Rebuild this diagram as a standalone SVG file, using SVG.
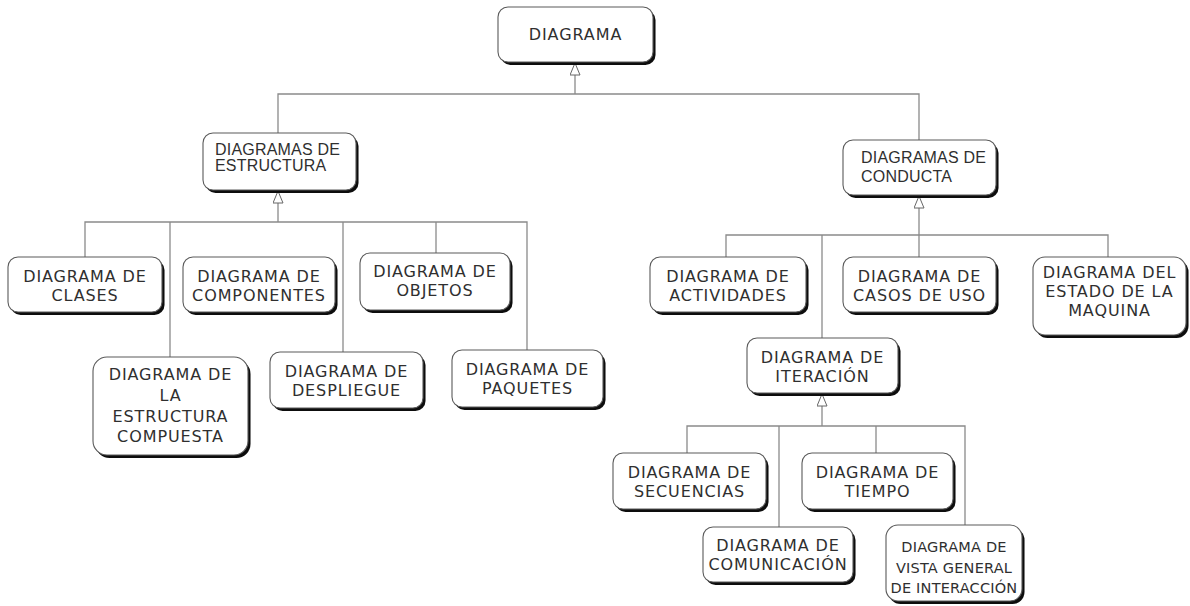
<svg xmlns="http://www.w3.org/2000/svg" width="1190" height="606" viewBox="0 0 1190 606">
  <defs>
    <filter id="soft" x="-10%" y="-10%" width="120%" height="130%">
      <feGaussianBlur stdDeviation="0.7"/>
    </filter>
    <!-- hollow generalization triangle -->
    <marker id="gen" viewBox="0 0 13 11" refX="12.5" refY="5.5" markerWidth="13" markerHeight="11" markerUnits="userSpaceOnUse" orient="auto">
      <path d="M0.5 0.5 L12.5 5.5 L0.5 10.5 Z" fill="#fff" stroke="#666" stroke-width="1"/>
    </marker>
    <style>
      .bg { fill: #fff; }
      .wire { fill: none; stroke: #8a8a8a; stroke-width: 1.3; }
      .shadow { fill: #0d0d0d; filter: url(#soft); }
      .box { fill: #fff; stroke: #5a5a5a; stroke-width: 1.1; }
      .leaf { font-family: "DejaVu Sans", Verdana, sans-serif; font-size: 16px; letter-spacing: 0.9px; fill: #2f2f2f; text-anchor: middle; }
      .small { font-size: 14.5px; letter-spacing: 0.2px; }
      .group { font-family: "Liberation Sans", Arial, sans-serif; font-size: 16px; letter-spacing: 0.2px; fill: #2f2f2f; }
    </style>
  </defs>

  <rect class="bg" x="0" y="0" width="1190" height="606"/>

  <!-- connectors -->
  <g id="connectors">
    <path class="wire" d="M278 133 V94 H919 V140"/>
    <path class="wire" d="M575 94 V63" marker-end="url(#gen)"/>

    <path class="wire" d="M278 222 V191" marker-end="url(#gen)"/>
    <path class="wire" d="M85 257 V222 H527 V350"/>
    <path class="wire" d="M170 222 V357"/>
    <path class="wire" d="M343 222 V352"/>
    <path class="wire" d="M436 222 V253"/>

    <path class="wire" d="M919 235 V196" marker-end="url(#gen)"/>
    <path class="wire" d="M726 257 V235 H1108 V257"/>
    <path class="wire" d="M822 235 V338"/>
    <path class="wire" d="M919 235 V257"/>

    <path class="wire" d="M822 426 V394" marker-end="url(#gen)"/>
    <path class="wire" d="M687 453 V426 H965 V525"/>
    <path class="wire" d="M779 426 V527"/>
    <path class="wire" d="M876 426 V453"/>
  </g>

  <!-- root -->
  <g id="diagrama">
    <rect class="shadow" x="500.5" y="10" width="155" height="55" rx="10"/>
    <rect class="box" x="498" y="7" width="155" height="55" rx="10"/>
    <text class="leaf" x="575.5" y="40">DIAGRAMA</text>
  </g>

  <!-- structure branch -->
  <g id="diagramas-estructura">
    <rect class="shadow" x="205.5" y="136" width="153" height="57" rx="10"/>
    <rect class="box" x="203" y="133" width="153" height="57" rx="10"/>
    <text class="group" x="215"><tspan x="215" y="155">DIAGRAMAS DE</tspan><tspan x="215" y="171">ESTRUCTURA</tspan></text>
  </g>

  <g id="diagrama-clases">
    <rect class="shadow" x="10.5" y="260" width="154" height="55" rx="10"/>
    <rect class="box" x="8" y="257" width="154" height="55" rx="10"/>
    <text class="leaf"><tspan x="85" y="282">DIAGRAMA DE</tspan><tspan x="85" y="301">CLASES</tspan></text>
  </g>

  <g id="diagrama-componentes">
    <rect class="shadow" x="185.5" y="260" width="152" height="55" rx="10"/>
    <rect class="box" x="183" y="257" width="152" height="55" rx="10"/>
    <text class="leaf"><tspan x="259" y="282">DIAGRAMA DE</tspan><tspan x="259" y="301">COMPONENTES</tspan></text>
  </g>

  <g id="diagrama-estructura-compuesta">
    <rect class="shadow" x="95.5" y="360" width="155" height="98" rx="14"/>
    <rect class="box" x="93" y="357" width="155" height="98" rx="14"/>
    <text class="leaf"><tspan x="170.5" y="380">DIAGRAMA DE</tspan><tspan x="170.5" y="401">LA</tspan><tspan x="170.5" y="421.5">ESTRUCTURA</tspan><tspan x="170.5" y="441.5">COMPUESTA</tspan></text>
  </g>

  <g id="diagrama-despliegue">
    <rect class="shadow" x="272.5" y="355" width="153" height="56" rx="10"/>
    <rect class="box" x="270" y="352" width="153" height="56" rx="10"/>
    <text class="leaf"><tspan x="346.5" y="377">DIAGRAMA DE</tspan><tspan x="346.5" y="396">DESPLIEGUE</tspan></text>
  </g>

  <g id="diagrama-objetos">
    <rect class="shadow" x="362.5" y="256" width="150" height="57" rx="10"/>
    <rect class="box" x="360" y="253" width="150" height="57" rx="10"/>
    <text class="leaf"><tspan x="435" y="277">DIAGRAMA DE</tspan><tspan x="435" y="296">OBJETOS</tspan></text>
  </g>

  <g id="diagrama-paquetes">
    <rect class="shadow" x="454.5" y="353" width="151" height="57" rx="10"/>
    <rect class="box" x="452" y="350" width="151" height="57" rx="10"/>
    <text class="leaf"><tspan x="527.5" y="375">DIAGRAMA DE</tspan><tspan x="527.5" y="394">PAQUETES</tspan></text>
  </g>

  <!-- behaviour branch -->
  <g id="diagramas-conducta">
    <rect class="shadow" x="845.5" y="143" width="153" height="55" rx="10"/>
    <rect class="box" x="843" y="140" width="153" height="55" rx="10"/>
    <text class="group"><tspan x="861" y="163">DIAGRAMAS DE</tspan><tspan x="861" y="182">CONDUCTA</tspan></text>
  </g>

  <g id="diagrama-actividades">
    <rect class="shadow" x="652.5" y="260" width="156" height="55" rx="10"/>
    <rect class="box" x="650" y="257" width="156" height="55" rx="10"/>
    <text class="leaf"><tspan x="728" y="282">DIAGRAMA DE</tspan><tspan x="728" y="301">ACTIVIDADES</tspan></text>
  </g>

  <g id="diagrama-casos-uso">
    <rect class="shadow" x="845.5" y="260" width="153" height="55" rx="10"/>
    <rect class="box" x="843" y="257" width="153" height="55" rx="10"/>
    <text class="leaf"><tspan x="919.5" y="282">DIAGRAMA DE</tspan><tspan x="919.5" y="301">CASOS DE USO</tspan></text>
  </g>

  <g id="diagrama-estado-maquina">
    <rect class="shadow" x="1035.5" y="260" width="153" height="78" rx="12"/>
    <rect class="box" x="1033" y="257" width="153" height="78" rx="12"/>
    <text class="leaf"><tspan x="1109.5" y="278">DIAGRAMA DEL</tspan><tspan x="1109.5" y="297">ESTADO DE LA</tspan><tspan x="1109.5" y="316">MAQUINA</tspan></text>
  </g>

  <g id="diagrama-iteracion">
    <rect class="shadow" x="749.5" y="341" width="151" height="55" rx="10"/>
    <rect class="box" x="747" y="338" width="151" height="55" rx="10"/>
    <text class="leaf"><tspan x="822.5" y="363">DIAGRAMA DE</tspan><tspan x="822.5" y="382">ITERACIÓN</tspan></text>
  </g>

  <g id="diagrama-secuencias">
    <rect class="shadow" x="615.5" y="456" width="153" height="56" rx="10"/>
    <rect class="box" x="613" y="453" width="153" height="56" rx="10"/>
    <text class="leaf"><tspan x="689.5" y="478">DIAGRAMA DE</tspan><tspan x="689.5" y="497">SECUENCIAS</tspan></text>
  </g>

  <g id="diagrama-tiempo">
    <rect class="shadow" x="804.5" y="456" width="151" height="56" rx="10"/>
    <rect class="box" x="802" y="453" width="151" height="56" rx="10"/>
    <text class="leaf"><tspan x="877.5" y="478">DIAGRAMA DE</tspan><tspan x="877.5" y="497">TIEMPO</tspan></text>
  </g>

  <g id="diagrama-comunicacion">
    <rect class="shadow" x="705.5" y="530" width="150" height="55" rx="10"/>
    <rect class="box" x="703" y="527" width="150" height="55" rx="10"/>
    <text class="leaf"><tspan x="778" y="550.5">DIAGRAMA DE</tspan><tspan x="778" y="570">COMUNICACIÓN</tspan></text>
  </g>

  <g id="diagrama-vista-general">
    <rect class="shadow" x="888.5" y="528" width="136" height="76" rx="12"/>
    <rect class="box" x="886" y="525" width="136" height="76" rx="12"/>
    <text class="leaf small"><tspan x="954" y="552">DIAGRAMA DE</tspan><tspan x="954" y="572.5">VISTA GENERAL</tspan><tspan x="954" y="593">DE INTERACCIÓN</tspan></text>
  </g>
</svg>
